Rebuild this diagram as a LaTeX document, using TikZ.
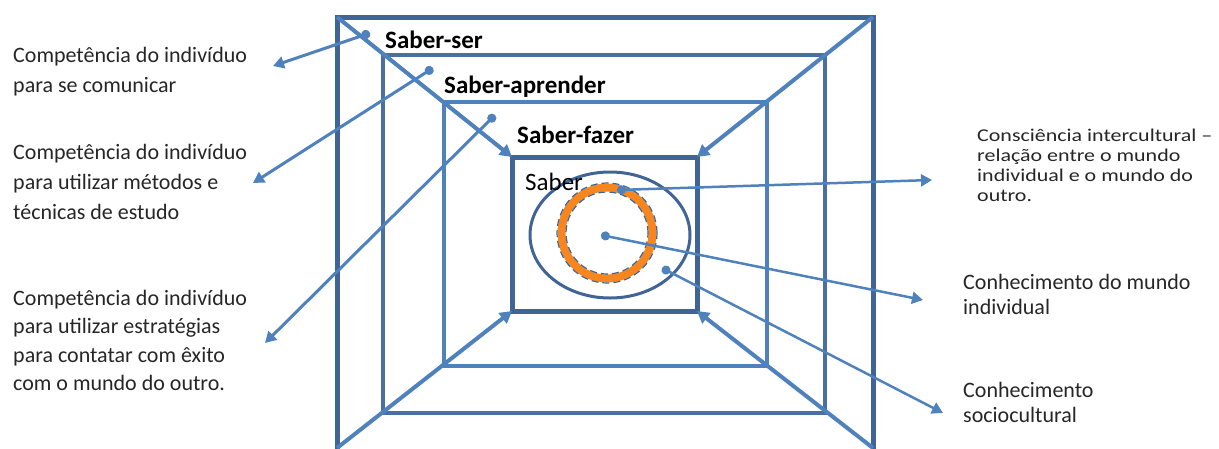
\documentclass[tikz,border=0pt]{standalone}
\usepackage{fontspec}
\setmainfont{Carlito}
\newfontfamily\widefont[FakeStretch=1.22]{Carlito}
\usetikzlibrary{arrows.meta}
\definecolor{rdark}{HTML}{406496}
\definecolor{rmid}{HTML}{4A6FA0}
\definecolor{rlight}{HTML}{4F81BD}
\definecolor{arrowblue}{HTML}{4F81BD}
\definecolor{ringorange}{HTML}{F7861E}
\definecolor{textgray}{HTML}{262626}
\begin{document}
\begin{tikzpicture}[x=1pt,y=1pt,
  frame/.style={draw, rectangle, outer sep=0pt, inner sep=0pt},
  diag/.style={draw=arrowblue, line width=4pt, -{Triangle[length=12pt,width=13pt]}},
  ptr/.style={draw=arrowblue, line width=3pt, {Circle[length=9pt]}-{Triangle[length=11pt,width=12pt]}},
  rptr/.style={draw=arrowblue, line width=2.5pt, {Circle[length=9pt]}-{Triangle[length=11pt,width=12pt]}},
  ltext/.style={anchor=base west, inner sep=0pt, align=left, text=textgray},
  blabel/.style={anchor=base west, inner sep=0pt, font=\fontsize{25}{30}\selectfont\bfseries, text=black}]
\useasboundingbox (0,0) rectangle (1219,-448);
\clip (0,0) rectangle (1219,-448);
% nested frames
\node[frame, draw=rdark, line width=5pt, minimum width=536pt, minimum height=446pt] (outer) at (605,-240) {};
\node[frame, draw=rmid, line width=4.5pt, minimum width=442pt, minimum height=358pt] (second) at (604,-234) {};
\node[frame, draw=rlight, line width=3.5pt, minimum width=323pt, minimum height=264pt] (third) at (605.5,-234) {};
\node[frame, draw=rdark, line width=5pt, minimum width=185pt, minimum height=154pt] (inner) at (604.5,-234) {};
% circles
\draw[rdark, line width=3pt] (610,-235) ellipse [x radius=80, y radius=63];
\draw[ringorange, line width=8pt] (607,-233) circle [radius=45.5];
\draw[rdark, line width=1.2pt, dash pattern=on 7pt off 4pt] (607,-233) circle [radius=50];
\draw[rdark, line width=1.2pt, dash pattern=on 7pt off 4pt] (607,-233) circle [radius=41];
% perspective diagonals
\coordinate (oBL) at (337,-448);
\coordinate (oBR) at (873,-448);
\draw[diag] (outer.north west) -- (inner.north west);
\draw[diag] (outer.north east) -- (inner.north east);
\draw[diag] (oBL) -- (inner.south west);
\draw[diag] (oBR) -- (inner.south east);
% box labels
\node[blabel] (ser) at (385,-48) {Saber-ser};
\node[blabel] (aprender) at (444,-93) {Saber-aprender};
\node[blabel] (fazer) at (517,-143) {Saber-fazer};
\node[blabel, font=\fontsize{25}{30}\selectfont] (saber) at (525,-190) {Saber};
% left texts (base anchor = baseline of last line)
\node[ltext, font=\fontsize{22}{30}\selectfont] (t1) at (13,-92) {Competência do indivíduo\\para se comunicar};
\node[ltext, font=\fontsize{22}{30}\selectfont] (t2) at (13,-219) {Competência do indivíduo\\para utilizar métodos e\\técnicas de estudo};
\node[ltext, font=\fontsize{22}{28.5}\selectfont] (t3) at (13,-390.5) {Competência do indivíduo\\para utilizar estratégias\\para contatar com êxito\\com o mundo do outro.};
% right texts
\node[ltext, font=\widefont\fontsize{18}{20}\selectfont] (t4) at (977,-201) {Consciência intercultural –\\relação entre o mundo\\individual e o mundo do\\outro.};
\node[ltext, font=\fontsize{22}{25}\selectfont] (t5) at (963,-314) {Conhecimento do mundo\\individual};
\node[ltext, font=\fontsize{22}{25}\selectfont] (t6) at (963,-422) {Conhecimento\\sociocultural};
% pointer anchors
\coordinate (d1) at (370,-33);  \coordinate (a1) at (273,-66);
\coordinate (d2) at (433,-68);  \coordinate (a2) at (253,-183);
\coordinate (d3) at (495,-115); \coordinate (a3) at (265,-343);
\coordinate (d4) at (617,-190); \coordinate (a4) at (932,-180);
\coordinate (d5) at (601,-235); \coordinate (a5) at (923,-300);
\coordinate (d6) at (662,-268); \coordinate (a6) at (943,-413);
\draw[ptr] (d1) -- (a1);
\draw[ptr] (d2) -- (a2);
\draw[ptr] (d3) -- (a3);
\draw[rptr] (d4) -- (a4);
\draw[rptr] (d5) -- (a5);
\draw[rptr] (d6) -- (a6);
\end{tikzpicture}
\end{document}
